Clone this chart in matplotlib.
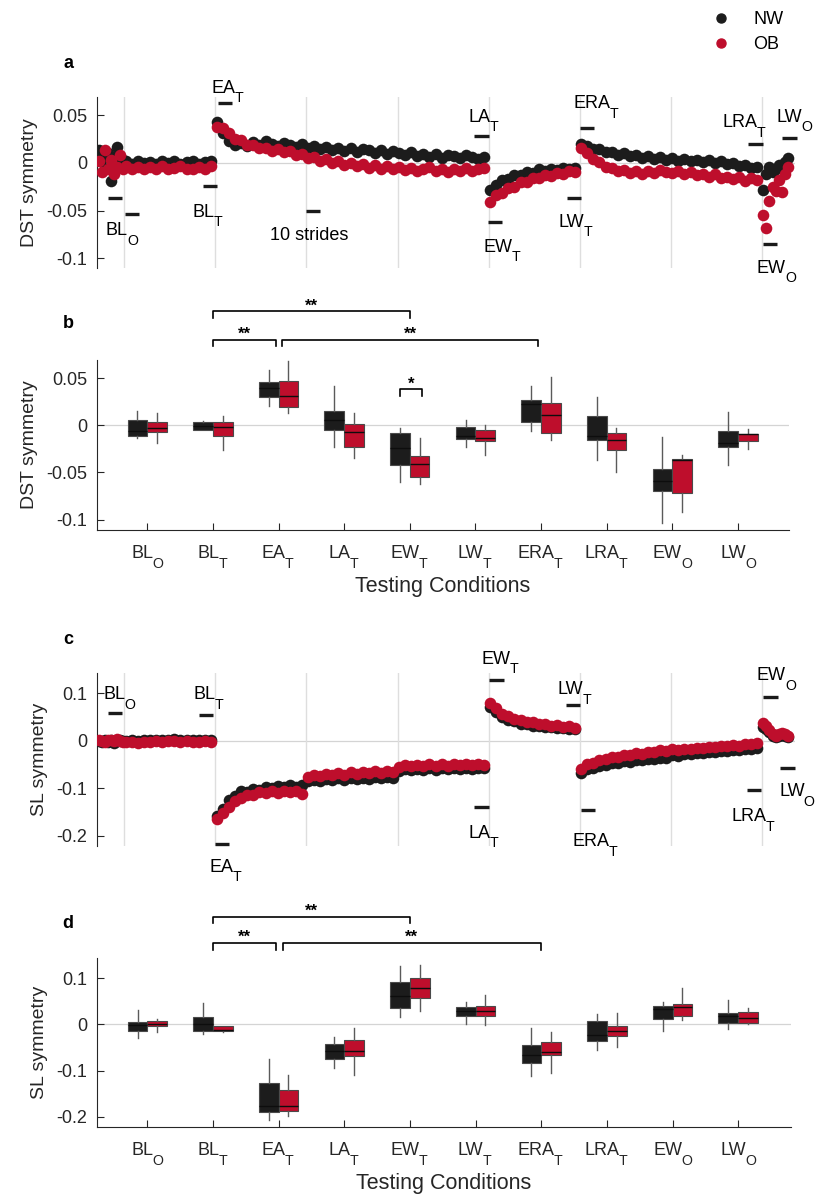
import numpy as np
import matplotlib
matplotlib.use("Agg")
import matplotlib.pyplot as plt
from matplotlib.lines import Line2D

plt.rcParams['font.family'] = ['Liberation Sans', 'DejaVu Sans']
plt.rcParams['axes.unicode_minus'] = False

# ---------------- data ----------------
conditions = ['BL_O', 'BL_T', 'EA_T', 'LA_T', 'EW_T', 'LW_T', 'ERA_T', 'LRA_T', 'EW_O', 'LW_O']

# stride index of every plotted point (segments: BL_O, BL_T, adaptation, washout, re-adaptation, post washout)
strides = np.concatenate([np.arange(1, 18, 2), np.arange(19, 79, 4), np.arange(79, 259, 4),
                          np.arange(259, 319, 4), np.arange(319, 439, 4), np.arange(439, 457, 2)])
session_lines = [18, 78, 138, 198, 258, 318, 378, 438]

dst_nw = [
    0.013, 0.004, -0.006, 0.010, -0.019, 0.006, 0.017, -0.002, 0.003,
    0.002, -0.001, 0.002, 0.000, 0.001, -0.001, 0.002, 0.000, 0.002, -0.001, 0.001, 0.002, -0.001, 0.001, 0.002,
    0.043, 0.031, 0.023, 0.019, 0.021, 0.018, 0.022, 0.019, 0.023, 0.020, 0.018, 0.021, 0.019, 0.017, 0.020,
    0.016, 0.018, 0.014, 0.017, 0.013, 0.016, 0.012, 0.015, 0.011, 0.014, 0.013, 0.010, 0.013, 0.009, 0.012,
    0.010, 0.008, 0.011, 0.007, 0.009, 0.006, 0.009, 0.005, 0.008, 0.007, 0.005, 0.008, 0.006, 0.004, 0.006,
    -0.028, -0.023, -0.018, -0.017, -0.013, -0.013, -0.010, -0.011, -0.007, -0.009, -0.006, -0.008, -0.005, -0.007, -0.005,
    0.020, 0.018, 0.014, 0.014, 0.011, 0.011, 0.008, 0.010, 0.007, 0.008, 0.005, 0.007, 0.004, 0.006, 0.003,
    0.005, 0.002, 0.004, 0.002, 0.003, 0.001, 0.003, 0.000, 0.002, -0.001, 0.000, -0.003, -0.002, -0.005, -0.004,
    -0.028, -0.012, -0.004, -0.010, -0.006, -0.002, -0.004, 0.001, 0.005,
]
dst_ob = [
    0.002, -0.010, 0.013, -0.006, 0.003, -0.012, -0.004, 0.008, -0.006,
    -0.003, -0.006, -0.004, -0.007, -0.004, -0.006, -0.003, -0.007, -0.005, -0.003, -0.006, -0.007, -0.004, -0.006, -0.003,
    0.038, 0.036, 0.031, 0.025, 0.024, 0.019, 0.019, 0.015, 0.016, 0.012, 0.014, 0.011, 0.012, 0.008, 0.009,
    0.005, 0.006, 0.002, 0.004, 0.000, 0.002, -0.002, 0.000, -0.003, -0.001, -0.005, -0.002, -0.006, -0.003, -0.007,
    -0.004, -0.008, -0.005, -0.009, -0.006, -0.004, -0.009, -0.006, -0.010, -0.006, -0.009, -0.005, -0.009, -0.007, -0.005,
    -0.041, -0.034, -0.032, -0.026, -0.025, -0.020, -0.020, -0.016, -0.016, -0.013, -0.014, -0.011, -0.012, -0.009, -0.010,
    0.015, 0.010, 0.004, 0.001, -0.004, -0.005, -0.009, -0.008, -0.011, -0.009, -0.012, -0.009, -0.011, -0.008, -0.010,
    -0.011, -0.009, -0.012, -0.010, -0.013, -0.012, -0.015, -0.012, -0.016, -0.015, -0.017, -0.015, -0.019, -0.016, -0.018,
    -0.055, -0.068, -0.040, -0.025, -0.030, -0.018, -0.031, -0.012, -0.004,
]
sl_nw = [
    0.000, -0.003, 0.002, -0.002, 0.001, -0.004, 0.000, 0.002, -0.001,
    0.000, 0.001, 0.000, 0.002, 0.001, 0.002, 0.001, 0.003, 0.004, 0.003, 0.002, 0.003, 0.002, 0.001, 0.002,
    -0.158, -0.143, -0.124, -0.115, -0.106, -0.107, -0.101, -0.103, -0.098, -0.100, -0.095, -0.098, -0.093, -0.096, -0.092,
    -0.085, -0.082, -0.084, -0.080, -0.083, -0.079, -0.082, -0.078, -0.081, -0.077, -0.080, -0.076, -0.079, -0.075, -0.078,
    -0.063, -0.060, -0.062, -0.059, -0.062, -0.058, -0.061, -0.058, -0.060, -0.057, -0.060, -0.056, -0.059, -0.057, -0.058,
    0.072, 0.061, 0.051, 0.044, 0.041, 0.036, 0.036, 0.032, 0.032, 0.029, 0.030, 0.027, 0.028, 0.025, 0.026,
    -0.067, -0.059, -0.057, -0.052, -0.051, -0.047, -0.047, -0.043, -0.044, -0.040, -0.041, -0.037, -0.038, -0.035, -0.035,
    -0.030, -0.031, -0.027, -0.028, -0.025, -0.026, -0.023, -0.024, -0.021, -0.022, -0.019, -0.020, -0.017, -0.018, -0.015,
    0.030, 0.026, 0.018, 0.010, 0.008, 0.011, 0.012, 0.011, 0.009,
]
sl_ob = [
    0.002, 0.000, -0.002, 0.003, 0.001, -0.001, 0.004, 0.000, -0.002,
    -0.003, -0.002, -0.004, -0.002, -0.003, -0.001, -0.003, -0.001, 0.000, -0.002, -0.001, -0.002, -0.003, -0.001, -0.002,
    -0.164, -0.151, -0.139, -0.126, -0.121, -0.114, -0.114, -0.108, -0.110, -0.106, -0.109, -0.105, -0.108, -0.105, -0.112,
    -0.075, -0.071, -0.074, -0.069, -0.072, -0.068, -0.071, -0.066, -0.070, -0.065, -0.068, -0.064, -0.067, -0.063, -0.066,
    -0.054, -0.051, -0.053, -0.050, -0.053, -0.049, -0.052, -0.048, -0.052, -0.049, -0.051, -0.048, -0.050, -0.048, -0.051,
    0.079, 0.070, 0.057, 0.053, 0.046, 0.045, 0.040, 0.040, 0.036, 0.036, 0.032, 0.033, 0.030, 0.031, 0.028,
    -0.059, -0.049, -0.046, -0.040, -0.038, -0.034, -0.034, -0.030, -0.030, -0.026, -0.027, -0.023, -0.024, -0.020, -0.021,
    -0.017, -0.019, -0.016, -0.017, -0.014, -0.015, -0.012, -0.013, -0.010, -0.011, -0.008, -0.010, -0.006, -0.007, -0.005,
    0.037, 0.032, 0.024, 0.014, 0.010, 0.015, 0.016, 0.014, 0.011,
]

# epoch markers: (label, label stride, label value, bar start stride, bar value)
dst_marks = [
    ('BL_O', 5.9, -0.0756, 7.2, -0.0365), ('', 0, 0, 18.4, -0.0539),
    ('BL_T', 63.2, -0.0564, 69.8, -0.024), ('EA_T', 75.6, 0.0734, 79.7, 0.0626),
    ('LA_T', 244.6, 0.043, 248.4, 0.028), ('EW_T', 254.5, -0.0931, 257.6, -0.062),
    ('LW_T', 304.3, -0.0669, 309.6, -0.0365), ('ERA_T', 313.8, 0.0571, 318.2, 0.0368),
    ('LRA_T', 412.2, 0.0372, 428.9, 0.0194), ('EW_O', 434.6, -0.115, 438.7, -0.0853),
    ('LW_O', 447.8, 0.043, 451.3, 0.0263), ('10 strides', 114, -0.0808, 137.7, -0.0505),
]
sl_marks = [
    ('BL_O', 4.2, 0.0874, 7.2, 0.058), ('BL_T', 63.4, 0.0874, 67.2, 0.054),
    ('EA_T', 74.4, -0.2757, 77.7, -0.216), ('LA_T', 244.6, -0.204, 248.4, -0.139),
    ('EW_T', 253.0, 0.163, 258.4, 0.128), ('LW_T', 303.5, 0.098, 308.7, 0.0754),
    ('ERA_T', 313.4, -0.221, 318.6, -0.146), ('LRA_T', 417.7, -0.169, 428.0, -0.1036),
    ('EW_O', 434.6, 0.128, 439.0, 0.093), ('LW_O', 449.3, -0.1157, 450.0, -0.058),
]

# box plot statistics per condition
dst_nw_lo = [-0.014, -0.0055, 0.020, -0.023, -0.060, -0.023, -0.006, -0.037, -0.104, -0.042]
dst_nw_q1 = [-0.011, -0.005, 0.030, -0.005, -0.042, -0.0145, 0.004, -0.016, -0.070, -0.023]
dst_nw_med = [-0.006, -0.001, 0.040, 0.006, -0.024, -0.011, 0.023, -0.011, -0.059, -0.019]
dst_nw_q3 = [0.006, 0.004, 0.046, 0.015, -0.008, -0.002, 0.027, 0.010, -0.046, -0.006]
dst_nw_hi = [0.015, 0.0045, 0.059, 0.042, -0.0025, 0.006, 0.042, 0.030, -0.012, 0.014]

dst_ob_lo = [-0.019, -0.026, 0.013, -0.035, -0.062, -0.032, -0.016, -0.050, -0.092, -0.025]
dst_ob_q1 = [-0.007, -0.011, 0.019, -0.023, -0.055, -0.017, -0.0085, -0.026, -0.072, -0.017]
dst_ob_med = [-0.003, -0.002, 0.031, -0.007, -0.041, -0.013, 0.011, -0.016, -0.037, -0.009]
dst_ob_q3 = [0.003, 0.003, 0.047, 0.001, -0.0325, -0.005, 0.024, -0.008, -0.036, -0.009]
dst_ob_hi = [0.013, 0.010, 0.068, 0.013, -0.014, 0.0003, 0.051, -0.0025, -0.0315, -0.0036]

sl_nw_lo = [-0.030, -0.0215, -0.207, -0.095, 0.015, 0.001, -0.112, -0.056, -0.014, -0.009]
sl_nw_q1 = [-0.015, -0.014, -0.189, -0.074, 0.036, 0.018, -0.0845, -0.036, 0.011, 0.003]
sl_nw_med = [-0.002, 0.000, -0.176, -0.058, 0.062, 0.028, -0.066, -0.023, 0.033, 0.019]
sl_nw_q3 = [0.0045, 0.015, -0.128, -0.0425, 0.092, 0.037, -0.045, 0.007, 0.041, 0.025]
sl_nw_hi = [0.031, 0.047, -0.074, -0.027, 0.127, 0.048, -0.0085, 0.022, 0.049, 0.054]

sl_ob_lo = [-0.017, -0.017, -0.198, -0.110, 0.028, -0.001, -0.105, -0.050, 0.0095, 0.000]
sl_ob_q1 = [-0.0035, -0.015, -0.188, -0.069, 0.057, 0.018, -0.067, -0.025, 0.019, 0.003]
sl_ob_med = [0.000, -0.013, -0.176, -0.057, 0.080, 0.028, -0.059, -0.015, 0.0385, 0.0145]
sl_ob_q3 = [0.007, -0.0035, -0.142, -0.034, 0.100, 0.040, -0.038, -0.0035, 0.044, 0.027]
sl_ob_hi = [0.012, -0.003, -0.110, -0.007, 0.129, 0.064, -0.016, 0.024, 0.078, 0.035]

# significance brackets: (x from, x to, stars)
dst_sig = [(2.0, 5.0, '**'), (2.0, 2.96, '**'), (3.06, 6.96, '**'), (4.85, 5.18, '*')]
dst_sig_y = [0.121, 0.091, 0.091, 0.038]
sl_sig = [(2.0, 5.0, '**'), (2.0, 2.96, '**'), (3.06, 6.99, '**')]
sl_sig_y = [0.234, 0.177, 0.177]

# ---------------- style ----------------
NW_COL = '#1c1c1c'
OB_COL = '#be0e2c'
TXT = '#262626'
W, H = 819, 1196
PT = 72 / 100  # points per pixel


def sub_label(ax, x, y, name, xycoords='data', dx=0, dy=0, ha='left', fs=13, color='black'):
    # MATLAB style subscript: nearly full-size letter dropped below the baseline
    if '_' in name:
        main, low = name.split('_')
    else:
        main, low = name, ''
    t = ax.annotate(main, xy=(x, y), xycoords=xycoords, xytext=(dx, dy),
                    textcoords='offset points', ha=ha, va='baseline', fontsize=fs,
                    color=color, annotation_clip=False)
    if low:
        ax.annotate(low, xy=(1, 0), xycoords=t, xytext=(-0.6, -6.2),
                    textcoords='offset points', ha='left', va='bottom',
                    fontsize=fs * 0.78, color=color, annotation_clip=False)
    return t


def px_axes(fig, left, top, right, bottom):
    return fig.add_axes([left / W, 1 - bottom / H, (right - left) / W, (bottom - top) / H])


def style_axis(ax, bottom=True):
    for side in ['top', 'right']:
        ax.spines[side].set_visible(False)
    ax.spines['left'].set_color(TXT)
    ax.spines['left'].set_linewidth(0.8)
    if bottom:
        ax.spines['bottom'].set_color(TXT)
        ax.spines['bottom'].set_linewidth(0.8)
    else:
        ax.spines['bottom'].set_visible(False)
        ax.set_xticks([])
    ax.tick_params(direction='in', length=5, width=0.8, color=TXT, labelcolor=TXT,
                   labelsize=13, pad=7)
    ax.axhline(0, color='#d4d4d4', lw=0.9, zorder=0)


def time_panel(ax, nw, ob, marks, ylim, yticks, yticklabels, ylabel):
    style_axis(ax, bottom=False)
    for s in session_lines:
        ax.axvline(s, color='#dedede', lw=1.0, zorder=0)
    ax.scatter(strides, nw, s=70, color=NW_COL, lw=0, zorder=2)
    ax.scatter(strides, ob, s=70, color=OB_COL, lw=0, zorder=3)
    for lab, tx, ty, bx, by in marks:
        ax.plot([bx, bx + 9.5], [by, by], color='#1a1a1a', lw=2.4, solid_capstyle='butt',
                clip_on=False, zorder=4)
        if lab:
            sub_label(ax, tx, ty, lab)
    ax.set_xlim(0, 460)
    ax.set_ylim(*ylim)
    ax.set_yticks(yticks)
    ax.set_yticklabels(yticklabels)
    ax.set_ylabel(ylabel, fontsize=14, color=TXT, labelpad=6)


def box_panel(ax, nw_stats, ob_stats, sig, sig_y, leg, ylim, yticks, yticklabels, ylabel):
    style_axis(ax)
    pos = np.arange(1, 11)
    for stats, off, col in [(nw_stats, -0.15, NW_COL), (ob_stats, 0.15, OB_COL)]:
        lo, q1, med, q3, hi = stats
        bx = [dict(whislo=lo[i], q1=q1[i], med=med[i], q3=q3[i], whishi=hi[i]) for i in range(10)]
        ax.bxp(bx, positions=pos + off, widths=0.3, patch_artist=True, showfliers=False,
               showcaps=False, manage_ticks=False,
               boxprops=dict(facecolor=col, edgecolor='#4a4a4a', linewidth=0.8),
               medianprops=dict(color='#0d0d0d', linewidth=1.0),
               whiskerprops=dict(color='#5a5a5a', linewidth=1.0))
    for (x1, x2, stars), yt in zip(sig, sig_y):
        ax.plot([x1, x1, x2, x2], [yt - leg, yt, yt, yt - leg], color='black', lw=1.2,
                clip_on=False)
        ax.text((x1 + x2) / 2, yt + leg * 0.15, stars, fontsize=12, fontweight='bold',
                ha='center', va='baseline', clip_on=False)
    ax.set_xticks(pos)
    ax.set_xticklabels([])
    for p, c in zip(pos, conditions):
        sub_label(ax, p, 0, c, xycoords=('data', 'axes fraction'), dx=-3.5, dy=-28 * PT,
                  ha='center', color=TXT)
    ax.annotate('Testing Conditions', xy=(0.5, 0), xycoords='axes fraction',
                xytext=(0, -62 * PT), textcoords='offset points', ha='center',
                va='baseline', fontsize=15.5, color=TXT)
    ax.set_ylim(*ylim)
    ax.set_yticks(yticks)
    ax.set_yticklabels(yticklabels)
    ax.set_ylabel(ylabel, fontsize=14, color=TXT, labelpad=6)


fig = plt.figure(figsize=(W / 100, H / 100), dpi=100)

ax_a = px_axes(fig, 97, 97, 795.3, 268)
time_panel(ax_a, dst_nw, dst_ob, dst_marks, (-0.1102, 0.0689),
           [-0.1, -0.05, 0, 0.05], ['-0.1', '-0.05', '0', '0.05'], 'DST symmetry')

ax_b = px_axes(fig, 97, 360, 789, 530)
box_panel(ax_b, (dst_nw_lo, dst_nw_q1, dst_nw_med, dst_nw_q3, dst_nw_hi),
          (dst_ob_lo, dst_ob_q1, dst_ob_med, dst_ob_q3, dst_ob_hi),
          dst_sig, dst_sig_y, 0.007, (-0.1111, 0.0693),
          [-0.1, -0.05, 0, 0.05], ['-0.1', '-0.05', '0', '0.05'], 'DST symmetry')
ax_b.set_xlim(0.233, 10.78)

ax_c = px_axes(fig, 97, 673.3, 795.3, 846)
time_panel(ax_c, sl_nw, sl_ob, sl_marks, (-0.2212, 0.1424),
           [-0.2, -0.1, 0, 0.1], ['-0.2', '-0.1', '0', '0.1'], 'SL symmetry')

ax_d = px_axes(fig, 97, 958.3, 790.7, 1127.3)
box_panel(ax_d, (sl_nw_lo, sl_nw_q1, sl_nw_med, sl_nw_q3, sl_nw_hi),
          (sl_ob_lo, sl_ob_q1, sl_ob_med, sl_ob_q3, sl_ob_hi),
          sl_sig, sl_sig_y, 0.015, (-0.2232, 0.1434),
          [-0.2, -0.1, 0, 0.1], ['-0.2', '-0.1', '0', '0.1'], 'SL symmetry')
ax_d.set_xlim(0.233, 10.8)

for lab, y in [('a', 63), ('b', 323), ('c', 640), ('d', 923)]:
    fig.text(68 / W, 1 - y / H, lab, fontsize=13, fontweight='bold', ha='center', va='center')

handles = [Line2D([], [], marker='o', ls='', color=NW_COL, ms=6.5),
           Line2D([], [], marker='o', ls='', color=OB_COL, ms=6.5)]
fig.legend(handles, ['NW', 'OB'], loc='upper left', bbox_to_anchor=(712 / W, 1 - 11 / H),
           frameon=False, fontsize=13, handlelength=1.0, handletextpad=1.3,
           labelspacing=0.45, borderaxespad=0, borderpad=0)

fig.savefig('out.png', dpi=100)
